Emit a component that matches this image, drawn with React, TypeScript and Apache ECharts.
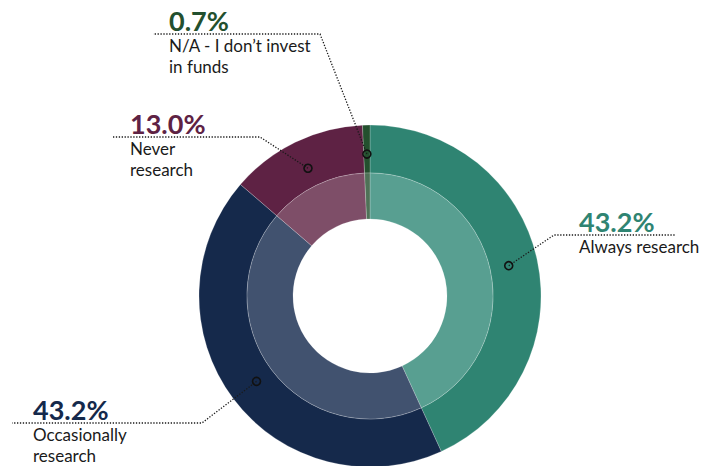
import React, { useEffect, useRef } from "react";
import * as echarts from "echarts";

const categories = ["Always research", "Occasionally\nresearch", "Never\nresearch", "N/A - I don\u2019t invest\nin funds"];
const values = [43.2, 43.2, 13.0, 0.7];
const outerColors = ["#2f8472", "#15294b", "#5e2244", "#23502e"];
const innerColors = ["#589f91", "#41526f", "#7e4e68", "#4e7257"];
const pctColors = ["#2f8472", "#15294b", "#5e2244", "#23502e"];

// label placement (layout only): elbow x, line y, line end x, text x
const labelLayouts = [
  { elbowX: 554, lineY: 235, endX: 675, textX: 579 },
  { elbowX: 202, lineY: 423, endX: 12, textX: 33 },
  { elbowX: 260, lineY: 137, endX: 113, textX: 130 },
  { elbowX: 320, lineY: 34, endX: 153, textX: 169 },
];

const CX = 370;
const CY = 296;
const R_OUT = 171;
const R_MID = 123;
const R_IN = 77;
const DOT_R = 142;

export default function App() {
  const ref = useRef<HTMLDivElement>(null);
  useEffect(() => {
    document.body.style.margin = "0";
    if (!ref.current) return;
    const chart = echarts.init(ref.current, null, { renderer: "svg" });
    const total = values.reduce((a, b) => a + b, 0);
    const mids: number[] = [];
    let acc = 0;
    values.forEach((v) => {
      mids.push(acc + v / 2);
      acc += v;
    });
    const font = "Lato, 'Noto Sans', sans-serif";
    const border = { borderColor: "rgba(255,255,255,0.35)", borderWidth: 0.6 };
    const pStyle = (c: string) => ({ fontFamily: font, fontWeight: "bold", fontSize: 27, lineHeight: 30, color: c });
    chart.setOption({
      animation: false,
      polar: { center: [CX, CY], radius: R_OUT },
      angleAxis: {
        type: "value", min: 0, max: total, startAngle: 90, clockwise: true, show: false,
      },
      radiusAxis: { type: "value", min: 0, max: R_OUT, show: false },
      series: [
        {
          type: "pie",
          center: [CX, CY],
          radius: [R_MID, R_OUT],
          startAngle: 90,
          clockwise: true,
          label: { show: false },
          labelLine: { show: false },
          silent: true,
          data: values.map((v, i) => ({ value: v, name: categories[i], itemStyle: { color: outerColors[i], ...border } })),
        },
        {
          type: "pie",
          center: [CX, CY],
          radius: [R_IN, R_MID],
          startAngle: 90,
          clockwise: true,
          label: { show: false },
          labelLine: { show: false },
          silent: true,
          data: values.map((v, i) => ({ value: v, name: categories[i], itemStyle: { color: innerColors[i], ...border } })),
        },
        {
          type: "scatter",
          coordinateSystem: "polar",
          z: 10,
          symbol: "circle",
          symbolSize: 8,
          itemStyle: { color: "rgba(0,0,0,0)", borderColor: "#111", borderWidth: 1.6, opacity: 1 },
          data: mids.map((m) => [DOT_R, m]),
          label: {
            show: true,
            opacity: 1,
            formatter: (p: any) => {
              const i = p.dataIndex;
              const lines = categories[i].split("\n").map((s) => `{n|${s}}`).join("\n");
              return `{p${i}|${values[i].toFixed(1)}%}\n${lines}`;
            },
            rich: {
              p0: pStyle(pctColors[0]),
              p1: pStyle(pctColors[1]),
              p2: pStyle(pctColors[2]),
              p3: pStyle(pctColors[3]),
              n: { fontFamily: font, fontSize: 17, lineHeight: 21, color: "#1a1a1a" },
            },
          },
          labelLayout: (params: any) => {
            const L = labelLayouts[params.dataIndex];
            return { x: L.textX, y: L.lineY - 29, align: "left", verticalAlign: "top" };
          },
        },
      ],
    });
    const lines = mids.map((m, i) => {
      const L = labelLayouts[i];
      const pt = chart.convertToPixel({ seriesIndex: 2 } as any, [DOT_R, m]) as number[];
      return {
        type: "polyline",
        z: 5,
        silent: true,
        shape: { points: [[pt[0], pt[1]], [L.elbowX, L.lineY], [L.endX, L.lineY]] },
        style: { stroke: "#1a1a1a", lineWidth: 1.3, lineDash: [1.3, 1.6], fill: null },
      };
    });
    chart.setOption({ graphic: { elements: lines } });
    return () => chart.dispose();
  }, []);
  return <div ref={ref} style={{ width: 718, height: 466 }} />;
}
